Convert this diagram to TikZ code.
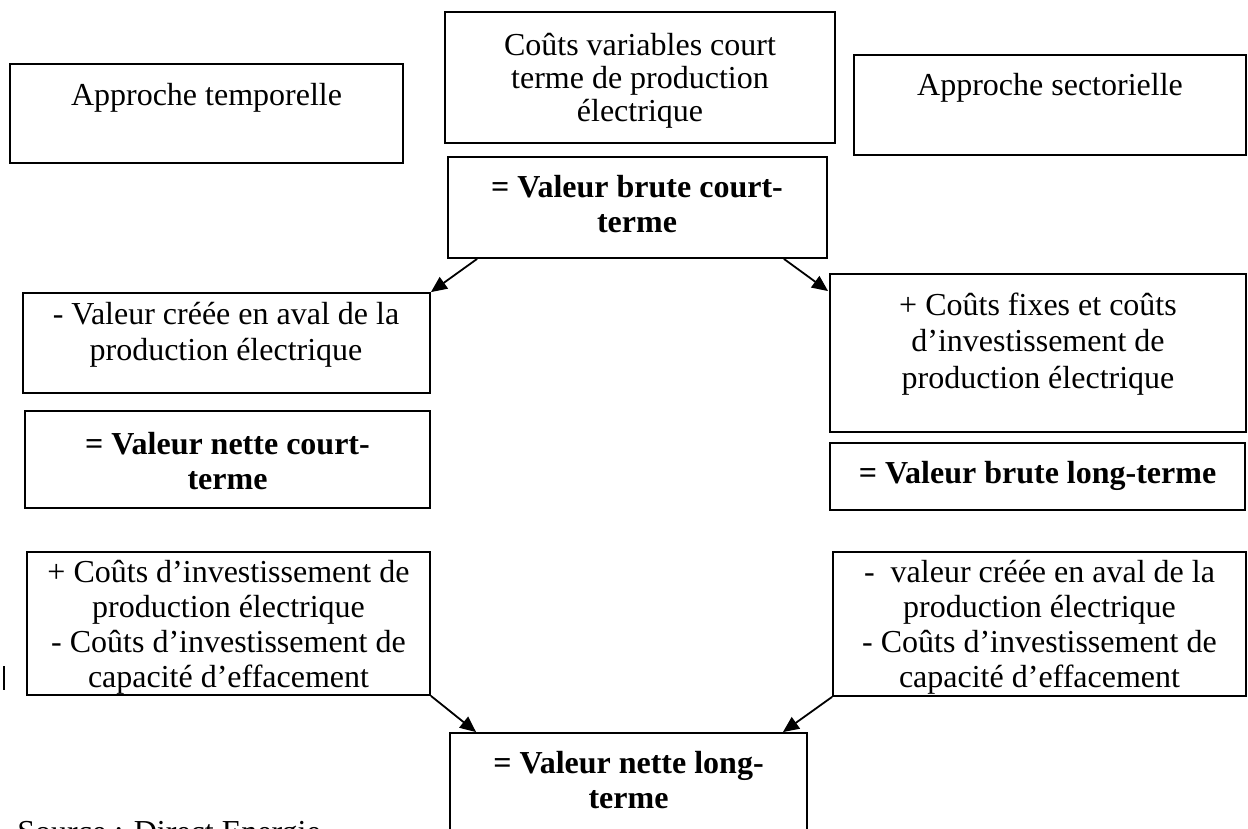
\documentclass[tikz,border=0pt]{standalone}
\usepackage{fontspec}
\setmainfont{Liberation Serif}
\usetikzlibrary{fit,arrows.meta,calc}
\begin{document}
\begin{tikzpicture}[x=0.5pt,y=-0.5pt,
  box/.style={draw,line width=0.9pt,inner sep=0pt},
  txt/.style={align=center,inner sep=0pt,font=\fontsize{16}{17.5}\selectfont},
  btxt/.style={align=center,inner sep=0pt,font=\fontsize{16}{17.5}\selectfont\bfseries},
  arr/.style={line width=0.9pt,-{Triangle[length=8pt,width=7pt]}}]
\useasboundingbox (0,0) rectangle (1248,829);
\clip (0,0) rectangle (1248,829);
\fill[white] (0,0) rectangle (1248,829);

\node[box,fit={(10,64)(403,163)}] (A) {};
\node[txt] (At) at (206.5,97.5) {Approche temporelle};

\node[box,fit={(445,12)(835,143)}] (B) {};
\node[txt,font=\fontsize{16}{16.6}\selectfont] (Bt) at (640,81) {Coûts variables court\\terme de production\\électrique};

\node[box,fit={(448,157)(827,258)}] (C) {};
\node[btxt] (Ct) at (637,204) {= Valeur brute court-\\terme};

\node[box,fit={(854,55)(1246,155)}] (D) {};
\node[txt] (Dt) at (1050,87.5) {Approche sectorielle};

\node[box,fit={(23,293)(430,393)}] (E) {};
\node[txt,font=\fontsize{16}{18.25}\selectfont] (Et) at (226,335) {- Valeur créée en aval de la\\production électrique};

\node[box,fit={(25,411)(430,508)}] (F) {};
\node[btxt] (Ft) at (227.5,461) {= Valeur nette court-\\terme};

\node[box,fit={(830,274)(1246,432)}] (H) {};
\node[txt,font=\fontsize{16}{18.25}\selectfont] (Ht) at (1038,344) {+ Coûts fixes et coûts\\d’investissement de\\production électrique};

\node[box,fit={(830,443)(1245,510)}] (I) {};
\node[btxt] (It) at (1037.5,476) {= Valeur brute long-terme};

\node[box,fit={(27,552)(430,695)}] (G) {};
\node[txt] (Gt) at (228.5,627) {+ Coûts d’investissement de\\production électrique\\- Coûts d’investissement de\\capacité d’effacement};

\node[box,fit={(833,552)(1246,696)}] (J) {};
\node[txt] (Jt) at (1039.5,627) {-\ \ valeur créée en aval de la\\production électrique\\- Coûts d’investissement de\\capacité d’effacement};

\node[box,fit={(450,733)(807,860)}] (K) {};
\node[btxt] (Kt) at (628.5,780) {= Valeur nette long-\\terme};

\node[txt,anchor=base west] (src) at (17,842) {Source : Direct Energie};

\coordinate (ce1) at ($(C.south west)+(30,0)$);
\draw[arr] (ce1) -- (E.north east);
\coordinate (ch1) at ($(C.south east)+(-44,0)$);
\coordinate (ch2) at ($(H.north west)+(-1,18)$);
\draw[arr] (ch1) -- (ch2);
\coordinate (gk2) at ($(K.north west)+(27,0)$);
\draw[arr] (G.south east) -- (gk2);
\coordinate (jk2) at ($(K.north east)+(-25,0)$);
\draw[arr] (J.south west) -- (jk2);

\draw[line width=1pt] (4,666) -- (4,690);
\end{tikzpicture}
\end{document}
